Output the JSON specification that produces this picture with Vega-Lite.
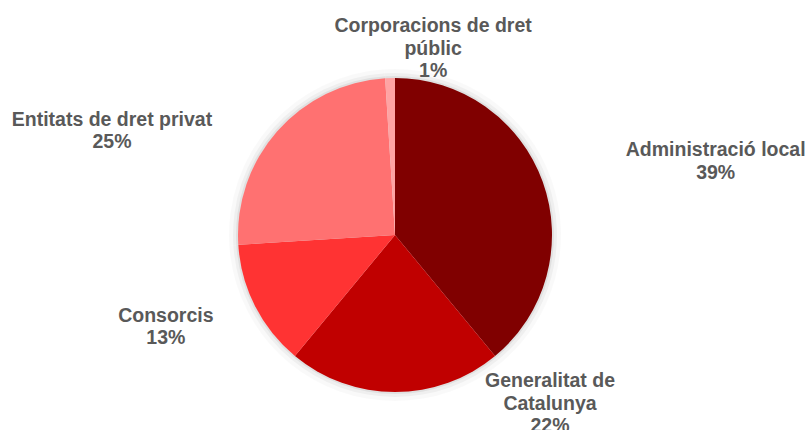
{
  "$schema": "https://vega.github.io/schema/vega-lite/v6.json",
  "width": 790,
  "height": 390,
  "autosize": {"type": "none"},
  "padding": {"left": 0, "top": 40, "right": 20, "bottom": 0},
  "background": "white",
  "config": {"view": {"stroke": null}},
  "data": {
    "values": [
      {"cat": "Administració local", "value": 39, "order": 1, "label": "Administració local\n39%"},
      {"cat": "Generalitat de Catalunya", "value": 22, "order": 2, "label": "Generalitat de\nCatalunya\n22%"},
      {"cat": "Consorcis", "value": 13, "order": 3, "label": "Consorcis\n13%"},
      {"cat": "Entitats de dret privat", "value": 25, "order": 4, "label": "Entitats de dret privat\n25%"},
      {"cat": "Corporacions de dret públic", "value": 1, "order": 5, "label": "Corporacions de dret\npúblic\n1%"}
    ]
  },
  "encoding": {
    "theta": {"field": "value", "type": "quantitative", "stack": true},
    "order": {"field": "order", "type": "quantitative"}
  },
  "layer": [
    {"mark": {"type": "arc", "outerRadius": 166, "fill": "#000000", "opacity": 0.025}},
    {"mark": {"type": "arc", "outerRadius": 162, "fill": "#000000", "opacity": 0.04}},
    {"mark": {"type": "arc", "outerRadius": 159, "fill": "#000000", "opacity": 0.06}},
    {
      "mark": {"type": "arc", "outerRadius": 157},
      "encoding": {
        "color": {
          "field": "cat",
          "type": "nominal",
          "scale": {
            "domain": ["Administració local", "Generalitat de Catalunya", "Consorcis", "Entitats de dret privat", "Corporacions de dret públic"],
            "range": ["#800000", "#C00000", "#FF3333", "#FF7171", "#FFA3A3"]
          },
          "legend": null
        }
      }
    },
    {
      "mark": {"type": "text", "radius": 327, "dx": 13, "dy": 26, "font": "Liberation Sans", "fontWeight": "bold", "fontSize": 19.5, "lineHeight": 22.5, "fill": "#595959", "align": "center", "baseline": "middle", "lineBreak": "\n"},
      "encoding": {"text": {"condition": {"test": "datum.cat === 'Administració local'", "field": "label"}, "value": ""}}
    },
    {
      "mark": {"type": "text", "radius": 169, "dx": 155, "dy": -23, "font": "Liberation Sans", "fontWeight": "bold", "fontSize": 19.5, "lineHeight": 22.5, "fill": "#595959", "align": "center", "baseline": "middle", "lineBreak": "\n"},
      "encoding": {"text": {"condition": {"test": "datum.cat === 'Generalitat de Catalunya'", "field": "label"}, "value": ""}}
    },
    {
      "mark": {"type": "text", "radius": 246, "dx": -10, "dy": -31, "font": "Liberation Sans", "fontWeight": "bold", "fontSize": 19.5, "lineHeight": 22.5, "fill": "#595959", "align": "center", "baseline": "middle", "lineBreak": "\n"},
      "encoding": {"text": {"condition": {"test": "datum.cat === 'Consorcis'", "field": "label"}, "value": ""}}
    },
    {
      "mark": {"type": "text", "radius": 280, "dx": -73, "dy": 70, "font": "Liberation Sans", "fontWeight": "bold", "fontSize": 19.5, "lineHeight": 22.5, "fill": "#595959", "align": "center", "baseline": "middle", "lineBreak": "\n"},
      "encoding": {"text": {"condition": {"test": "datum.cat === 'Entitats de dret privat'", "field": "label"}, "value": ""}}
    },
    {
      "mark": {"type": "text", "radius": 187, "dx": 44, "dy": -22, "font": "Liberation Sans", "fontWeight": "bold", "fontSize": 19.5, "lineHeight": 22.5, "fill": "#595959", "align": "center", "baseline": "middle", "lineBreak": "\n"},
      "encoding": {"text": {"condition": {"test": "datum.cat === 'Corporacions de dret públic'", "field": "label"}, "value": ""}}
    }
  ]
}
